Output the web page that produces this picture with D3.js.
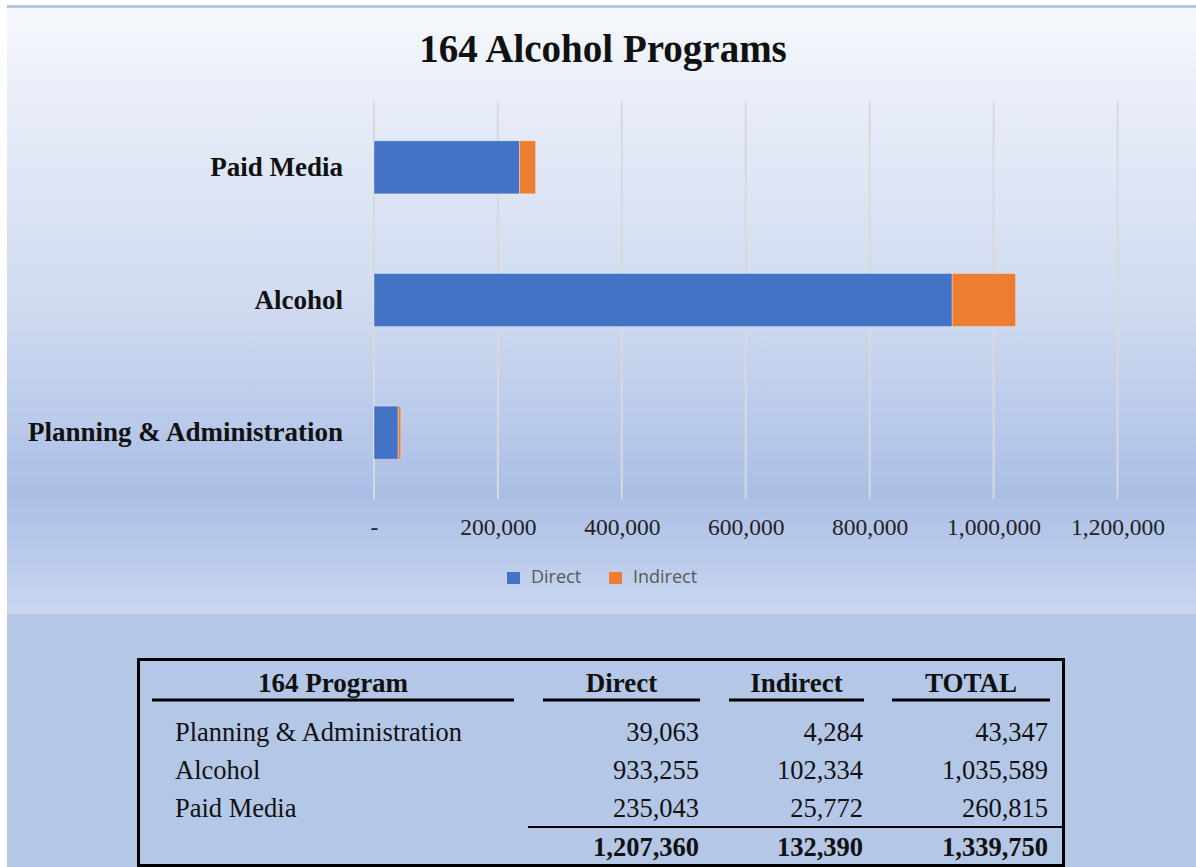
<!DOCTYPE html>
<html>
<head>
<meta charset="utf-8">
<script src="https://cdn.jsdelivr.net/npm/d3@7"></script>
<style>
  html, body { margin: 0; padding: 0; background: #ffffff; }
  svg { display: block; }
</style>
</head>
<body>
<svg id="chart" width="1196" height="867"></svg>
<script>
// ---- Data ----
const categories = ["Planning & Administration", "Alcohol", "Paid Media"];
const direct = [39063, 933255, 235043];
const indirect = [4284, 102334, 25772];
const totals = [43347, 1035589, 260815];
const seriesNames = ["Direct", "Indirect"];
const seriesColors = ["#4472c4", "#ed7d31"];
const xTicks = [0, 200000, 400000, 600000, 800000, 1000000, 1200000];
const tableHeaders = ["164 Program", "Direct", "Indirect", "TOTAL"];
const totalRow = [1207360, 132390, 1339750];
const title = "164 Alcohol Programs";

const svg = d3.select("#chart");
const W = 1196, H = 867;

// ---- Backgrounds ----
const defs = svg.append("defs");
const grad = defs.append("linearGradient").attr("id", "panelGrad")
  .attr("x1", 0).attr("y1", 0).attr("x2", 0).attr("y2", 1);
[[0, "#f6f8fc"], [0.15, "#e8edf8"], [0.5, "#cfdaf0"], [0.8, "#abbfe6"], [1, "#c8d6ef"]]
  .forEach(([o, c]) => grad.append("stop").attr("offset", o).attr("stop-color", c));

svg.append("rect").attr("x", 0).attr("y", 0).attr("width", W).attr("height", H).attr("fill", "#ffffff");
svg.append("rect").attr("x", 7).attr("y", 613).attr("width", W - 7).attr("height", H - 613).attr("fill", "#b4c7e7");
svg.append("rect").attr("x", 7).attr("y", 8).attr("width", W - 7).attr("height", 605).attr("fill", "url(#panelGrad)");
svg.append("rect").attr("x", 7).attr("y", 5).attr("width", W - 7).attr("height", 3).attr("fill", "#b7c4de");
svg.append("rect").attr("x", 7).attr("y", 612).attr("width", W - 7).attr("height", 2).attr("fill", "#d3d6de");

// ---- Title ----
svg.append("text").attr("x", 603).attr("y", 62)
  .attr("text-anchor", "middle")
  .attr("font-family", "'Liberation Serif', 'Times New Roman', serif")
  .attr("font-weight", "bold").attr("font-size", 39).attr("fill", "#111")
  .text(title);

// ---- Scales ----
const x = d3.scaleLinear().domain([0, 1200000]).range([374, 1117.5]);
const y = d3.scaleBand().domain(["Paid Media", "Alcohol", "Planning & Administration"])
  .range([101, 499]).paddingInner(0.6).paddingOuter(0.3);

// gridlines
svg.append("g").selectAll("line").data(xTicks).join("line")
  .attr("x1", d => x(d)).attr("x2", d => x(d))
  .attr("y1", 101).attr("y2", 499)
  .attr("stroke", "#d9d9d9").attr("stroke-width", 2);

// x axis tick labels
const xAxis = d3.axisBottom(x).tickValues(xTicks).tickSize(0)
  .tickFormat(d => d === 0 ? "-" : d3.format(",")(d));
const gx = svg.append("g").attr("transform", "translate(0,499)").call(xAxis);
gx.select(".domain").remove();
gx.selectAll("text")
  .attr("y", 0).attr("dy", null)
  .attr("transform", "translate(0,36)")
  .attr("font-family", "'Liberation Serif', 'Times New Roman', serif")
  .attr("font-size", 23.5).attr("fill", "#222");

// y axis labels
const yAxis = d3.axisLeft(y).tickSize(0).tickPadding(0);
const gy = svg.append("g").attr("transform", "translate(343,0)").call(yAxis);
gy.select(".domain").remove();
gy.selectAll("text")
  .attr("x", 0).attr("dy", "0.32em")
  .attr("font-family", "'Liberation Serif', 'Times New Roman', serif")
  .attr("font-weight", "bold").attr("font-size", 27).attr("fill", "#111");

// ---- Stacked bars ----
const rows = categories.map((c, i) => ({ cat: c, Direct: direct[i], Indirect: indirect[i] }));
const stack = d3.stack().keys(seriesNames)(rows);
svg.append("g").selectAll("g").data(stack).join("g")
  .attr("fill", (d, i) => seriesColors[i])
  .selectAll("rect").data(d => d).join("rect")
  .attr("x", d => x(d[0]))
  .attr("y", d => y(d.data.cat))
  .attr("width", d => x(d[1]) - x(d[0]))
  .attr("height", y.bandwidth())
  .attr("stroke", "rgba(255,255,255,0.35)").attr("stroke-width", 1);

// ---- Legend ----
const legend = svg.append("g");
const legendX = [507, 609];
seriesNames.forEach((s, i) => {
  legend.append("rect").attr("x", legendX[i]).attr("y", 572).attr("width", 13).attr("height", 12)
    .attr("fill", seriesColors[i]);
  legend.append("text").attr("x", legendX[i] + 24).attr("y", 583)
    .attr("font-family", "'Open Sans', 'Liberation Sans', sans-serif")
    .attr("font-size", 18).attr("fill", "#595959").text(s);
});

// ---- Table ----
const tserif = "'Liberation Serif', 'Times New Roman', serif";
const tbl = svg.append("g");
tbl.append("rect").attr("x", 138.5).attr("y", 659.5).attr("width", 925).attr("height", 206)
  .attr("fill", "none").attr("stroke", "#000").attr("stroke-width", 3);

const headerCenters = [333, 621.5, 796.5, 971];
const underlines = [[152, 514], [543, 700], [729, 864], [892, 1050]];
tableHeaders.forEach((h, i) => {
  tbl.append("text").attr("x", headerCenters[i]).attr("y", 692)
    .attr("text-anchor", "middle").attr("font-family", tserif)
    .attr("font-weight", "bold").attr("font-size", 27).attr("fill", "#111").text(h);
  tbl.append("line").attr("x1", underlines[i][0]).attr("x2", underlines[i][1])
    .attr("y1", 700).attr("y2", 700).attr("stroke", "#000").attr("stroke-width", 3);
});

const rowBase = [741, 779, 817];
const numRight = [699, 863, 1048];
const fmt = d3.format(",");
categories.forEach((c, i) => {
  tbl.append("text").attr("x", 175).attr("y", rowBase[i])
    .attr("font-family", tserif).attr("font-size", 26.5).attr("fill", "#111").text(c);
  [direct[i], indirect[i], totals[i]].forEach((v, j) => {
    tbl.append("text").attr("x", numRight[j]).attr("y", rowBase[i])
      .attr("text-anchor", "end").attr("font-family", tserif)
      .attr("font-size", 26.5).attr("fill", "#111").text(fmt(v));
  });
});
tbl.append("line").attr("x1", 528).attr("x2", 1063).attr("y1", 827).attr("y2", 827)
  .attr("stroke", "#000").attr("stroke-width", 2);
totalRow.forEach((v, j) => {
  tbl.append("text").attr("x", numRight[j]).attr("y", 856)
    .attr("text-anchor", "end").attr("font-family", tserif)
    .attr("font-weight", "bold").attr("font-size", 26.5).attr("fill", "#111").text(fmt(v));
});
</script>
</body>
</html>
